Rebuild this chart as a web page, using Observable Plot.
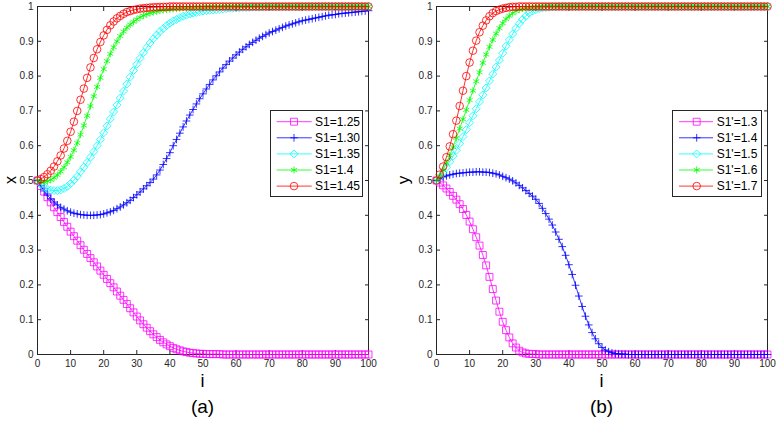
<!DOCTYPE html>
<html><head><meta charset="utf-8">
<script src="https://cdn.jsdelivr.net/npm/d3@7"></script>
<script src="https://cdn.jsdelivr.net/npm/@observablehq/plot@0.6"></script>
<style>
body{margin:0;background:#fff;}
#root{position:relative;width:777px;height:421px;overflow:hidden;font-family:"Liberation Sans",Arial,sans-serif;}
.panel{position:absolute;top:0;}
</style></head><body><div id="root"></div>
<script>
// ---------- data ----------
const iValues = d3.range(0, 101);
const xTicks = [0,10,20,30,40,50,60,70,80,90,100];
const yTicks = [0,0.1,0.2,0.3,0.4,0.5,0.6,0.7,0.8,0.9,1];
const labelsA = ["S1=1.25","S1=1.30","S1=1.35","S1=1.4","S1=1.45"];
const labelsB = ["S1'=1.3","S1'=1.4","S1'=1.5","S1'=1.6","S1'=1.7"];

const a125 = [0.500,0.484,0.468,0.452,0.437,0.423,0.409,0.395,0.381,0.367,
0.353,0.340,0.327,0.314,0.301,0.289,0.277,0.265,0.253,0.241,
0.229,0.217,0.205,0.193,0.181,0.169,0.157,0.145,0.133,0.121,
0.109,0.098,0.087,0.077,0.067,0.058,0.050,0.042,0.035,0.029,
0.024,0.019,0.015,0.012,0.009,0.007,0.005,0.004,0.003,0.002,
0.002,0.001,0.001,0.001,0.001,0.001,0,0,0,0,
0,0,0,0,0,0,0,0,0,0,
0,0,0,0,0,0,0,0,0,0,
0,0,0,0,0,0,0,0,0,0,
0,0,0,0,0,0,0,0,0,0,
0];
const a130 = [0.500,0.485,0.470,0.458,0.447,0.438,0.430,0.423,0.418,0.413,
0.409,0.406,0.404,0.402,0.401,0.400,0.400,0.400,0.401,0.402,
0.404,0.407,0.410,0.414,0.419,0.424,0.430,0.436,0.443,0.451,
0.459,0.467,0.476,0.485,0.494,0.504,0.516,0.530,0.546,0.563,
0.580,0.600,0.618,0.636,0.654,0.671,0.688,0.704,0.720,0.735,
0.749,0.763,0.776,0.789,0.801,0.812,0.823,0.833,0.843,0.852,
0.861,0.869,0.877,0.884,0.891,0.897,0.903,0.909,0.914,0.919,
0.924,0.928,0.932,0.936,0.940,0.944,0.947,0.950,0.953,0.956,
0.959,0.961,0.963,0.965,0.967,0.969,0.971,0.973,0.975,0.976,
0.977,0.979,0.980,0.981,0.982,0.983,0.984,0.985,0.986,0.987,
0.988];
const a135 = [0.500,0.488,0.480,0.475,0.472,0.471,0.471,0.473,0.477,0.483,
0.491,0.501,0.512,0.525,0.538,0.552,0.567,0.583,0.600,0.618,
0.637,0.657,0.677,0.697,0.717,0.737,0.757,0.777,0.797,0.816,
0.834,0.851,0.867,0.882,0.895,0.907,0.918,0.928,0.937,0.945,
0.952,0.958,0.963,0.968,0.972,0.975,0.978,0.981,0.983,0.985,
0.987,0.988,0.989,0.990,0.991,0.992,0.993,0.994,0.995,0.995,
0.996,0.996,0.997,0.997,0.997,0.998,0.998,0.998,0.998,0.999,
0.999,0.999,0.999,0.999,0.999,0.999,0.999,0.999,0.999,0.999,
1,1,1,1,1,1,1,1,1,1,
1,1,1,1,1,1,1,1,1,1,
1];
const a140 = [0.500,0.496,0.496,0.498,0.502,0.508,0.516,0.526,0.538,0.552,
0.568,0.587,0.608,0.632,0.658,0.686,0.714,0.742,0.769,0.795,
0.820,0.843,0.864,0.883,0.900,0.915,0.928,0.939,0.948,0.956,
0.963,0.969,0.974,0.978,0.981,0.984,0.986,0.988,0.990,0.991,
0.992,0.993,0.994,0.995,0.996,0.996,0.997,0.997,0.998,0.998,
0.998,0.999,0.999,0.999,0.999,0.999,1,1,1,1,
1,1,1,1,1,1,1,1,1,1,
1,1,1,1,1,1,1,1,1,1,
1,1,1,1,1,1,1,1,1,1,
1,1,1,1,1,1,1,1,1,1,
1];
const a145 = [0.500,0.504,0.510,0.518,0.528,0.540,0.555,0.572,0.592,0.614,
0.640,0.669,0.700,0.732,0.764,0.795,0.825,0.852,0.877,0.898,
0.917,0.933,0.946,0.957,0.966,0.973,0.979,0.984,0.987,0.990,
0.992,0.994,0.995,0.996,0.997,0.998,0.998,0.999,0.999,0.999,
1,1,1,1,1,1,1,1,1,1,
1,1,1,1,1,1,1,1,1,1,
1,1,1,1,1,1,1,1,1,1,
1,1,1,1,1,1,1,1,1,1,
1,1,1,1,1,1,1,1,1,1,
1,1,1,1,1,1,1,1,1,1,
1];

const b13 = [0.500,0.494,0.486,0.477,0.467,0.456,0.445,0.432,0.418,0.401,
0.382,0.360,0.337,0.313,0.286,0.256,0.223,0.188,0.155,0.123,
0.094,0.070,0.049,0.032,0.020,0.011,0.006,0.003,0.002,0.001,
0.001,0,0,0,0,0,0,0,0,0,
0,0,0,0,0,0,0,0,0,0,
0,0,0,0,0,0,0,0,0,0,
0,0,0,0,0,0,0,0,0,0,
0,0,0,0,0,0,0,0,0,0,
0,0,0,0,0,0,0,0,0,0,
0,0,0,0,0,0,0,0,0,0,
0];
const b14 = [0.500,0.506,0.510,0.513,0.516,0.518,0.520,0.521,0.522,0.523,
0.524,0.524,0.525,0.525,0.524,0.524,0.523,0.521,0.519,0.516,
0.512,0.508,0.504,0.499,0.493,0.486,0.479,0.471,0.463,0.455,
0.446,0.434,0.420,0.405,0.389,0.372,0.352,0.331,0.310,0.285,
0.258,0.230,0.199,0.168,0.138,0.110,0.085,0.063,0.045,0.031,
0.020,0.013,0.008,0.005,0.003,0.002,0.001,0.001,0,0,
0,0,0,0,0,0,0,0,0,0,
0,0,0,0,0,0,0,0,0,0,
0,0,0,0,0,0,0,0,0,0,
0,0,0,0,0,0,0,0,0,0,
0];
const b15 = [0.500,0.509,0.523,0.538,0.554,0.570,0.587,0.606,0.626,0.646,
0.666,0.686,0.706,0.726,0.746,0.766,0.786,0.806,0.826,0.846,
0.866,0.886,0.904,0.921,0.937,0.951,0.963,0.973,0.981,0.987,
0.991,0.994,0.996,0.997,0.998,0.999,0.999,1,1,1,
1,1,1,1,1,1,1,1,1,1,
1,1,1,1,1,1,1,1,1,1,
1,1,1,1,1,1,1,1,1,1,
1,1,1,1,1,1,1,1,1,1,
1,1,1,1,1,1,1,1,1,1,
1,1,1,1,1,1,1,1,1,1,
1];
const b16 = [0.500,0.512,0.530,0.550,0.572,0.596,0.622,0.649,0.676,0.703,
0.731,0.758,0.785,0.811,0.838,0.862,0.884,0.904,0.922,0.938,
0.952,0.964,0.973,0.981,0.987,0.991,0.994,0.996,0.997,0.998,
0.999,0.999,1,1,1,1,1,1,1,1,
1,1,1,1,1,1,1,1,1,1,
1,1,1,1,1,1,1,1,1,1,
1,1,1,1,1,1,1,1,1,1,
1,1,1,1,1,1,1,1,1,1,
1,1,1,1,1,1,1,1,1,1,
1,1,1,1,1,1,1,1,1,1,
1];
const b17 = [0.500,0.517,0.540,0.567,0.598,0.633,0.672,0.714,0.758,0.800,
0.839,0.873,0.902,0.926,0.945,0.960,0.972,0.981,0.987,0.991,
0.994,0.996,0.998,0.999,0.999,1,1,1,1,1,
1,1,1,1,1,1,1,1,1,1,
1,1,1,1,1,1,1,1,1,1,
1,1,1,1,1,1,1,1,1,1,
1,1,1,1,1,1,1,1,1,1,
1,1,1,1,1,1,1,1,1,1,
1,1,1,1,1,1,1,1,1,1,
1,1,1,1,1,1,1,1,1,1,
1];

// ---------- styles ----------
const colors = ["#ff00ff","#0000ff","#00ffff","#00ff00","#ff0000"];
const symbolNames = ["square2","plus","diamond2","asterisk","circle"];
const symbolTypes = [d3.symbolSquare2, d3.symbolPlus, d3.symbolDiamond2, d3.symbolAsterisk, d3.symbolCircle];
const markerR = [4.4, 2.6, 3.6, 3.3, 3.8];
const ink = "#262626";
const font = "'Liberation Sans', Arial, sans-serif";
const root = document.getElementById("root");
const fmt = d => String(d);

function makePanel(series, width, mL, mR) {
  const marks = [];
  series.forEach((vals, k) => {
    const data = vals.map((v, j) => ({i: iValues[j], v}));
    marks.push(Plot.line(data, {x: "i", y: "v", stroke: colors[k], strokeWidth: 0.8}));
    marks.push(Plot.dot(data, {x: "i", y: "v", symbol: symbolNames[k], r: markerR[k], stroke: colors[k], fill: "none", strokeWidth: 0.8}));
  });
  return Plot.plot({
    width, height: 421, marginLeft: mL, marginRight: mR, marginTop: 6, marginBottom: 67,
    style: {fontFamily: font, fontSize: "10px", color: ink, background: "transparent"},
    x: {domain: [0, 100], label: null},
    y: {domain: [0, 1], label: null},
    marks: [
      Plot.frame({stroke: ink, strokeWidth: 1}),
      Plot.axisX({ticks: xTicks, anchor: "bottom", tickSize: -4, tickPadding: 9, tickFormat: fmt, label: null}),
      Plot.axisX({ticks: xTicks, anchor: "top", tickSize: -4, tickFormat: () => "", label: null}),
      Plot.axisY({ticks: yTicks, anchor: "left", tickSize: -4, tickPadding: 8, tickFormat: fmt, label: null}),
      Plot.axisY({ticks: yTicks, anchor: "right", tickSize: -4, tickFormat: () => "", label: null}),
      ...marks
    ]
  });
}

function addPanel(series, left, width, mL, mR) {
  const div = document.createElement("div");
  div.className = "panel";
  div.style.left = left + "px";
  div.appendChild(makePanel(series, width, mL, mR));
  root.appendChild(div);
}

function addLegend(labels, left, w, lx1, lx2, mx, tx) {
  const svg = d3.create("svg").attr("width", w).attr("height", 88)
    .style("position", "absolute").style("left", left + "px").style("top", "110px")
    .style("font-family", font).style("font-size", "12px");
  svg.append("rect").attr("x", 0.5).attr("y", 0.5).attr("width", w - 1).attr("height", 86)
    .attr("fill", "#fff").attr("stroke", ink);
  labels.forEach((lab, k) => {
    const cy = 11.7 + k * 16.1;
    svg.append("line").attr("x1", lx1).attr("x2", lx2).attr("y1", cy).attr("y2", cy)
      .attr("stroke", colors[k]).attr("stroke-width", 0.8);
    svg.append("path").attr("d", d3.symbol(symbolTypes[k], Math.PI * markerR[k] * markerR[k])())
      .attr("transform", `translate(${mx},${cy})`).attr("fill", "none")
      .attr("stroke", colors[k]).attr("stroke-width", 0.8);
    svg.append("text").attr("x", tx).attr("y", cy).attr("dy", "0.36em").attr("fill", "#000").text(lab);
  });
  root.appendChild(svg.node());
}

addPanel([a125, a130, a135, a140, a145], 0, 389, 37, 21);
addPanel([b13, b14, b15, b16, b17], 389, 388, 47, 10);
addLegend(labelsA, 270, 93, 6.7, 41.7, 24, 45);
addLegend(labelsB, 672, 90, 7, 41, 24.7, 44.7);

// axis titles and panel captions
const over = d3.create("svg").attr("width", 777).attr("height", 421)
  .style("position", "absolute").style("left", "0px").style("top", "0px")
  .style("pointer-events", "none").style("font-family", font);
const titles = [
  {t: "x", x: 15.5, y: 180, size: 16, rot: true},
  {t: "y", x: 409, y: 180, size: 17, rot: true},
  {t: "i", x: 202.5, y: 387, size: 18, rot: false},
  {t: "i", x: 601.5, y: 387, size: 18, rot: false},
  {t: "(a)", x: 202.5, y: 413, size: 19, rot: false},
  {t: "(b)", x: 601.5, y: 413, size: 19, rot: false}
];
titles.forEach(d => {
  over.append("text")
    .attr("transform", `translate(${d.x},${d.y})` + (d.rot ? " rotate(-90)" : ""))
    .attr("text-anchor", "middle").attr("font-size", d.size).attr("fill", "#000").text(d.t);
});
root.appendChild(over.node());
</script></body></html>
